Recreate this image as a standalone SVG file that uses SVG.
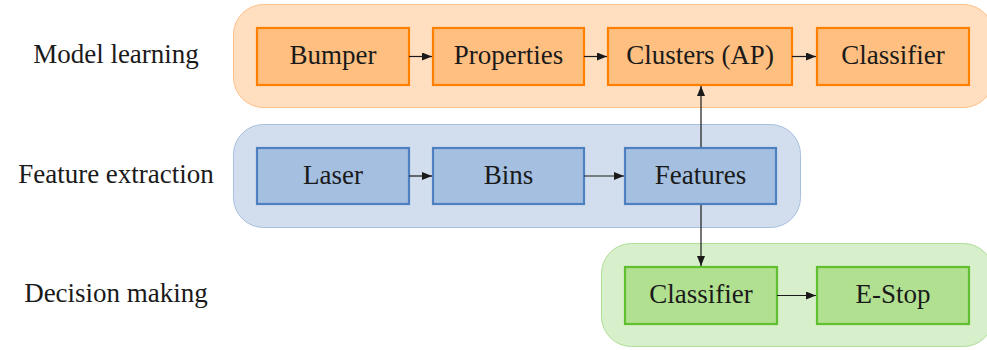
<svg xmlns="http://www.w3.org/2000/svg" width="987" height="350" viewBox="0 0 987 350">
<defs>
<style>
.og{fill:#ffdfc0;stroke:#ffc08a;stroke-width:1}
.ob{fill:#ffbf80;stroke:#ff8000;stroke-width:2.2}
.bg{fill:#d2deee;stroke:#a8bfe0;stroke-width:1}
.bb{fill:#a4bfdf;stroke:#4f80c2;stroke-width:2.2}
.gg{fill:#d7efcb;stroke:#b0de98;stroke-width:1}
.gb{fill:#b0e090;stroke:#60c030;stroke-width:2.2}
.c{stroke:#1a1a1a;stroke-width:1.2;fill:none;marker-end:url(#ah)}
</style>
<marker id="ah" viewBox="0 0 10 8" refX="10" refY="4" markerWidth="10" markerHeight="8" markerUnits="userSpaceOnUse" orient="auto">
<path d="M0,0 L10,4 L0,8 Z" fill="#1a1a1a"/>
</marker>
</defs>
<g id="groups">
<rect class="og" x="233.5" y="4.5" width="760" height="103" rx="30"/>
<rect class="bg" x="233.5" y="124.5" width="567" height="103" rx="30"/>
<rect class="gg" x="601.5" y="243.5" width="392" height="103" rx="30"/>
</g>
<g id="labels">
<text x="116" y="63" font-family="Liberation Serif" font-size="27" fill="#1a1a1a" text-anchor="middle">Model learning</text>
<text x="116" y="183" font-family="Liberation Serif" font-size="27" fill="#1a1a1a" text-anchor="middle">Feature extraction</text>
<text x="116" y="302" font-family="Liberation Serif" font-size="27" fill="#1a1a1a" text-anchor="middle">Decision making</text>
</g>
<g id="bumper"><rect class="ob" x="257" y="28" width="152" height="57"/><text x="333" y="64" font-family="Liberation Serif" font-size="27" fill="#1a1a1a" text-anchor="middle">Bumper</text></g>
<g id="properties"><rect class="ob" x="433" y="28" width="151" height="57"/><text x="508.5" y="64" font-family="Liberation Serif" font-size="27" fill="#1a1a1a" text-anchor="middle">Properties</text></g>
<g id="clusters"><rect class="ob" x="608" y="28" width="184" height="57"/><text x="700" y="64" font-family="Liberation Serif" font-size="27" fill="#1a1a1a" text-anchor="middle">Clusters (AP)</text></g>
<g id="classifier1"><rect class="ob" x="817" y="28" width="152" height="57"/><text x="893" y="64" font-family="Liberation Serif" font-size="27" fill="#1a1a1a" text-anchor="middle">Classifier</text></g>
<g id="laser"><rect class="bb" x="257" y="148" width="152" height="56"/><text x="333" y="184" font-family="Liberation Serif" font-size="27" fill="#1a1a1a" text-anchor="middle">Laser</text></g>
<g id="bins"><rect class="bb" x="433" y="148" width="151" height="56"/><text x="508.5" y="184" font-family="Liberation Serif" font-size="27" fill="#1a1a1a" text-anchor="middle">Bins</text></g>
<g id="features"><rect class="bb" x="625" y="148" width="151" height="56"/><text x="700.5" y="184" font-family="Liberation Serif" font-size="27" fill="#1a1a1a" text-anchor="middle">Features</text></g>
<g id="classifier2"><rect class="gb" x="625" y="267" width="152" height="57"/><text x="701" y="303" font-family="Liberation Serif" font-size="27" fill="#1a1a1a" text-anchor="middle">Classifier</text></g>
<g id="estop"><rect class="gb" x="817" y="267" width="152" height="57"/><text x="893" y="303" font-family="Liberation Serif" font-size="27" fill="#1a1a1a" text-anchor="middle">E-Stop</text></g>
<g id="connectors">
<line class="c" x1="409" y1="56.5" x2="432" y2="56.5"/>
<line class="c" x1="584" y1="56.5" x2="607" y2="56.5"/>
<line class="c" x1="792" y1="56.5" x2="816" y2="56.5"/>
<line class="c" x1="409" y1="176" x2="432" y2="176"/>
<line class="c" x1="584" y1="176" x2="624" y2="176"/>
<line class="c" x1="701" y1="147" x2="701" y2="86"/>
<line class="c" x1="701" y1="205" x2="701" y2="266"/>
<line class="c" x1="777" y1="295.5" x2="816" y2="295.5"/>
</g>
</svg>
